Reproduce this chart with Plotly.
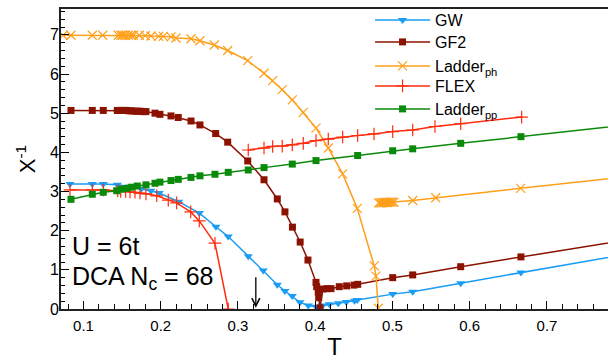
import plotly.graph_objects as go

# ---------------- data ----------------
gw_T = [0.0825, 0.1114, 0.1256, 0.1438, 0.160, 0.175, 0.1874, 0.198, 0.2232, 0.250, 0.2715,
        0.2874, 0.3133, 0.3327, 0.3509, 0.3608, 0.3703, 0.3803, 0.391, 0.401, 0.4096, 0.4182,
        0.4298, 0.4402, 0.4508, 0.4544, 0.5003, 0.5262, 0.5883, 0.6663, 0.80]
gw_chi = [3.19, 3.19, 3.19, 3.17, 3.13, 3.07, 3.02, 2.96, 2.74, 2.45, 2.10,
          1.85, 1.35, 0.98, 0.62, 0.46, 0.33, 0.17, 0.09, 0.06, 0.09, 0.12,
          0.15, 0.18, 0.21, 0.23, 0.38, 0.44, 0.66, 0.93, 1.39]

gf2_T = [0.0838, 0.1114, 0.1256, 0.1438, 0.1472, 0.1507, 0.1537, 0.1559, 0.1593, 0.1624,
         0.1667, 0.1702, 0.1731, 0.1774, 0.1809, 0.1926, 0.1990, 0.2133, 0.2227, 0.2392,
         0.2508, 0.2711, 0.2867, 0.3126, 0.3337, 0.3509, 0.3608, 0.3705, 0.3805, 0.3906,
         0.4010, 0.4019, 0.4039, 0.4045, 0.4061, 0.4100, 0.4155, 0.4204, 0.4311, 0.4407,
         0.4502, 0.4550, 0.5003, 0.5262, 0.5883, 0.6663, 0.80]
gf2_chi = [5.07, 5.07, 5.07, 5.07, 5.07, 5.07, 5.07, 5.07, 5.06, 5.06,
           5.05, 5.05, 5.05, 5.04, 5.04, 5.00, 4.97, 4.93, 4.89, 4.80,
           4.70, 4.48, 4.26, 3.78, 3.30, 2.81, 2.48, 2.09, 1.71, 1.25,
           0.68, 0.57, 0.43, 0.29, 0.03, 0.51, 0.52, 0.52, 0.57, 0.59,
           0.61, 0.63, 0.80, 0.87, 1.08, 1.33, 1.75]

ph_T = [0.0735, 0.0838, 0.1114, 0.1249, 0.1450, 0.1485, 0.1507, 0.1537, 0.1580, 0.1615,
        0.1645, 0.1722, 0.1800, 0.1874, 0.1973, 0.2033, 0.2133, 0.2197, 0.2392, 0.2508,
        0.2693, 0.2867, 0.3126, 0.3337, 0.3449, 0.3573, 0.3703, 0.3845, 0.4010, 0.4170,
        0.4355, 0.4544, 0.4764, 0.4786, 0.4816,
        None,
        0.482, 0.484, 0.486, 0.488, 0.490, 0.492, 0.494, 0.496, 0.498, 0.500, 0.502,
        0.5262, 0.5560, 0.6660, 0.80]
ph_chi = [6.99, 6.99, 6.99, 6.99, 6.99, 6.99, 6.99, 6.99, 6.99, 6.99,
          6.99, 6.99, 6.98, 6.97, 6.96, 6.96, 6.95, 6.92, 6.90, 6.85,
          6.74, 6.60, 6.34, 6.02, 5.83, 5.60, 5.34, 5.02, 4.62, 4.11,
          3.45, 2.57, 1.10, 0.84, 0.02,
          None,
          2.71, 2.71, 2.71, 2.72, 2.72, 2.72, 2.72, 2.73, 2.73, 2.73, 2.73,
          2.77, 2.84, 3.08, 3.37]

flex_T = [0.0825, 0.1114, 0.1256, 0.1443, 0.1482, 0.1546, 0.1602, 0.1667, 0.1731, 0.1809,
          0.1948, 0.2098, 0.2206, 0.2388, 0.2499, 0.2702, 0.2874,
          None,
          0.3133, 0.3337, 0.3449, 0.3573, 0.3703, 0.3845, 0.4010, 0.4169, 0.4355, 0.4549,
          0.4761, 0.5003, 0.5262, 0.5550, 0.5883, 0.6672]
flex_chi = [3.04, 3.04, 3.04, 3.02, 3.00, 3.00, 2.99, 2.98, 2.96, 2.94,
            2.89, 2.78, 2.71, 2.48, 2.25, 1.68, 0.0,
            None,
            4.06, 4.11, 4.15, 4.16, 4.19, 4.23, 4.30, 4.34, 4.39, 4.43,
            4.47, 4.53, 4.57, 4.66, 4.73, 4.90]

pp_T = [0.0838, 0.1114, 0.1256, 0.1430, 0.1494, 0.1559, 0.1624, 0.1696, 0.1809, 0.1926,
        0.1990, 0.2133, 0.2227, 0.2392, 0.2508, 0.2702, 0.2874, 0.3133, 0.3337, 0.3703,
        0.4010, 0.4549, 0.5003, 0.5262, 0.5883, 0.6663, 0.80]
pp_chi = [2.80, 2.93, 2.98, 3.02, 3.06, 3.08, 3.11, 3.14, 3.17, 3.21,
          3.24, 3.28, 3.31, 3.36, 3.40, 3.44, 3.49, 3.55, 3.61, 3.70,
          3.79, 3.92, 4.04, 4.09, 4.23, 4.40, 4.69]

arrow_T = 0.3231

x_ticks = [0.1, 0.2, 0.3, 0.4, 0.5, 0.6, 0.7]
y_ticks = [0, 1, 2, 3, 4, 5, 6, 7]

# ---------------- styles ----------------
FONT = "Liberation Sans, Arial, Helvetica, sans-serif"
C_GW = "#1b9cf5"
C_GF2 = "#8b1200"
C_PH = "#ff9f1a"
C_FLEX = "#ff2d0d"
C_PP = "#0a8a0a"

fig = go.Figure()

fig.add_trace(go.Scatter(x=gw_T, y=gw_chi, name="GW", mode="lines+markers",
                         legend="legend",
                         line=dict(color=C_GW, width=1.5),
                         marker=dict(symbol="triangle-down", size=8, color=C_GW)))
fig.add_trace(go.Scatter(x=gf2_T, y=gf2_chi, name="GF2", mode="lines+markers",
                         legend="legend2",
                         line=dict(color=C_GF2, width=1.5),
                         marker=dict(symbol="square", size=7, color=C_GF2)))
fig.add_trace(go.Scatter(x=ph_T, y=ph_chi, name="Ladder<sub>ph</sub>", mode="lines+markers",
                         legend="legend3", connectgaps=False,
                         line=dict(color=C_PH, width=1.5),
                         marker=dict(symbol="x-thin-open", size=9, color=C_PH,
                                     line=dict(color=C_PH, width=1.2))))
fig.add_trace(go.Scatter(x=flex_T, y=flex_chi, name="FLEX", mode="lines+markers",
                         legend="legend4", connectgaps=False,
                         line=dict(color=C_FLEX, width=1.5),
                         marker=dict(symbol="cross-thin-open", size=9, color=C_FLEX,
                                     line=dict(color=C_FLEX, width=1.2))))
fig.add_trace(go.Scatter(x=pp_T, y=pp_chi, name="Ladder<sub>pp</sub>", mode="lines+markers",
                         legend="legend5",
                         line=dict(color=C_PP, width=1.5),
                         marker=dict(symbol="square", size=7, color=C_PP)))

fig.add_annotation(x=0.0165, y=0.21, xref="paper", yref="paper", xanchor="left",
                   yanchor="middle", text="U = 6t", showarrow=False,
                   font=dict(family=FONT, size=25, color="black"))
fig.add_annotation(x=0.0165, y=0.105, xref="paper", yref="paper", xanchor="left",
                   yanchor="middle", text="DCA N<sub>c</sub> = 68", showarrow=False,
                   font=dict(family=FONT, size=25, color="black"))
fig.add_annotation(x=arrow_T, y=0.03, xref="x", yref="y", text="", showarrow=True,
                   ax=0, ay=-32, arrowhead=5, arrowsize=1.2, arrowwidth=1.3,
                   arrowcolor="black")


def leg(ypx):
    return dict(x=0.565, y=(309 - ypx) / 300, xanchor="left", yanchor="middle",
                bgcolor="rgba(0,0,0,0)", borderwidth=0,
                font=dict(family=FONT, size=16, color="black"),
                itemwidth=55, tracegroupgap=0)


fig.update_layout(
    width=608, height=360,
    margin=dict(l=61, r=0, t=9, b=51),
    paper_bgcolor="white", plot_bgcolor="white",
    font=dict(family=FONT, color="black"),
    showlegend=True,
    legend=leg(20), legend2=leg(42), legend3=leg(66), legend4=leg(86), legend5=leg(109),
    xaxis=dict(range=[0.0709, 0.779], tickvals=x_ticks, ticktext=[str(v) for v in x_ticks],
               ticks="inside", ticklen=8, tickwidth=1.3, tickcolor="black",
               minor=dict(dtick=0.02, ticks="inside", ticklen=5, tickwidth=1, tickcolor="black"),
               showline=True, linecolor="#222", linewidth=2, mirror=True,
               showgrid=False, zeroline=False, ticklabelstandoff=2,
               tickfont=dict(family=FONT, size=15),
               title=dict(text="T", font=dict(family=FONT, size=24), standoff=8)),
    yaxis=dict(range=[0, 7.66], tickvals=y_ticks,
               ticks="inside", ticklen=8, tickwidth=1.3, tickcolor="black",
               minor=dict(dtick=0.2, ticks="inside", ticklen=4, tickwidth=1, tickcolor="black"),
               showline=True, linecolor="#222", linewidth=2, mirror=False,
               showgrid=False, zeroline=False, ticklabelstandoff=-3,
               tickfont=dict(family=FONT, size=16),
               title=dict(text="Χ<sup>-1</sup>", font=dict(family=FONT, size=22), standoff=8)),
)

fig.write_html("out.html")
